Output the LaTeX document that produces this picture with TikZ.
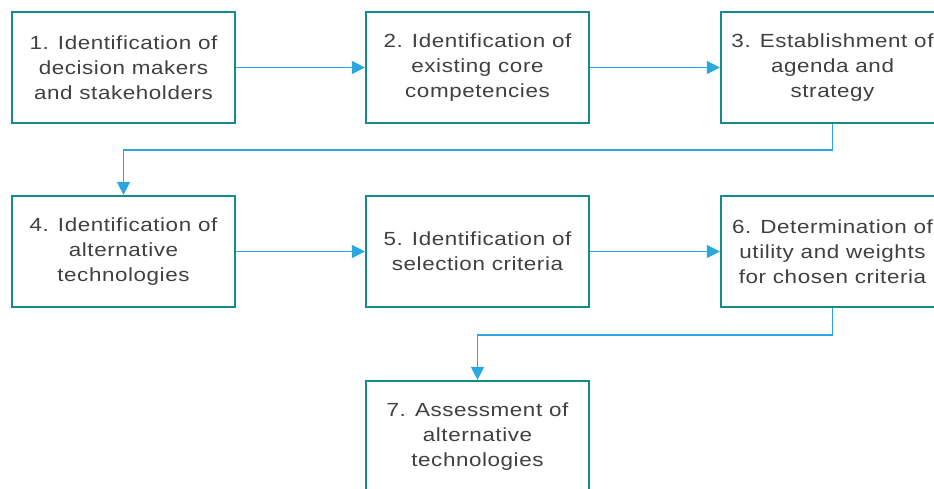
\documentclass[tikz,border=0pt]{standalone}
\usepackage{fontspec}
\setmainfont{Liberation Sans}[FakeStretch=1.18,LetterSpace=3]
\usetikzlibrary{arrows.meta}
\definecolor{boxline}{HTML}{168B8B}
\definecolor{flow}{HTML}{2AA7DF}
\definecolor{txt}{HTML}{404040}
\begin{document}
\begin{tikzpicture}[x=1pt,y=-1pt,
  stepbox/.style={draw=boxline, line width=2.2pt, fill=white,
    minimum width=223pt, minimum height=111pt, inner sep=0pt,
    align=center, text=txt, font=\fontsize{19}{25}\selectfont},
  link/.style={draw=flow, line width=1.1pt,
    -{Triangle[length=13pt,width=13pt]}}]
\useasboundingbox (0,0) rectangle (934,489);
\clip (0,0) rectangle (934,489);
\node[stepbox] (b1) at (123.5,67.5) {1. Identification of\\decision makers\\and stakeholders};
\node[stepbox] (b2) at (477.5,67.5) {2. Identification of\\existing core\\competencies};
\node[stepbox] (b3) at (832.5,67.5) {3. Establishment of\\agenda and\\strategy};
\node[stepbox] (b4) at (123.5,251.5) {4. Identification of\\alternative\\technologies};
\node[stepbox] (b5) at (477.5,251.5) {5. Identification of\\selection criteria};
\node[stepbox] (b6) at (832.5,251.5) {6. Determination of\\utility and weights\\for chosen criteria};
\node[stepbox] (b7) at (477.5,436.5) {7. Assessment of\\alternative\\technologies};
\coordinate (turnA) at (0,150);
\coordinate (turnB) at (0,335);
\draw[link] (b1.east) -- (b2.west);
\draw[link] (b2.east) -- (b3.west);
\draw[link] (b3.south) -- (b3.south |- turnA) -| (b4.north);
\draw[link] (b4.east) -- (b5.west);
\draw[link] (b5.east) -- (b6.west);
\draw[link] (b6.south) -- (b6.south |- turnB) -| (b7.north);
\end{tikzpicture}
\end{document}
